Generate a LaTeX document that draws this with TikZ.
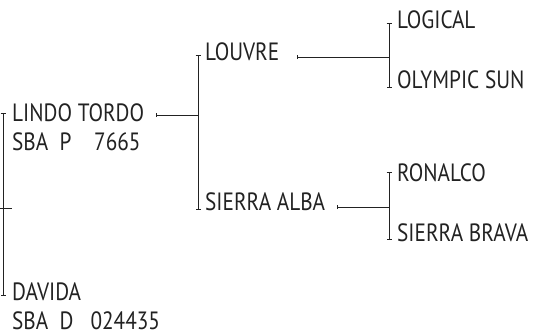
\documentclass[tikz,border=0pt]{standalone}
\usepackage{fontspec}
\setmainfont{PT Sans}[FakeStretch=0.85]
\usetikzlibrary{arrows.meta}
\definecolor{inkgray}{HTML}{222222}
\tikzset{
  horse/.style={anchor=base west, inner sep=0pt, text=inkgray, font=\fontsize{25}{29}\selectfont},
  bracket/.style={{Bar[width=5pt,line width=0.8pt]}-{Bar[width=5pt,line width=0.8pt]}, draw=inkgray, line width=0.8pt},
  link/.style={{Bar[width=4pt,line width=0.8pt]}-, draw=inkgray, line width=0.8pt}
}

\begin{document}
\begin{tikzpicture}[x=1pt, y=-1pt]
    \useasboundingbox (0,0) rectangle (542,335);
    % parents
    \node[horse] (lindo) at (12,121) {LINDO TORDO};
    \node[horse] (lindoreg) at (12,150) {SBA\ \ P\ \ \ \ 7665};
    \node[horse] (davida) at (12,300) {DAVIDA};
    \node[horse] (davidareg) at (12,329) {SBA\ \ D\ \ \ 024435};
    % grandparents
    \node[horse] (louvre) at (205,60) {LOUVRE};
    \node[horse] (sierraalba) at (205,210) {SIERRA ALBA};
    % great-grandparents
    \node[horse] (logical) at (397,28) {LOGICAL};
    \node[horse] (olympic) at (397,88) {OLYMPIC SUN};
    \node[horse] (ronalco) at (397,181) {RONALCO};
    \node[horse] (sierrabrava) at (397,241) {SIERRA BRAVA};
    % brackets
    \coordinate (root) at (0,208);
    \draw[bracket] ([shift={(-9,-8)}]lindo.base west) -- ([shift={(-9,-4)}]davida.base west);
    \draw[draw=inkgray, line width=0.8pt] (root) -- (root -| davida.west) ++(-9,0);
    \draw[bracket] ([shift={(-7,-5)}]louvre.base west) -- ([xshift=-7]sierraalba.base west);
    \draw[bracket] ([shift={(-8,-5)}]logical.base west) -- ([xshift=-8]olympic.base west);
    \draw[bracket] ([shift={(-8,-9)}]ronalco.base west) -- ([shift={(-8,-1)}]sierrabrava.base west);
    % links
    \draw[link] ([shift={(12,-6)}]lindo.base east) -- ([shift={(-7,-6)}]lindo.base east -| louvre.west);
    \draw[link] ([shift={(18,-3)}]louvre.base east) -- ([shift={(-8,-3)}]louvre.base east -| logical.west);
    \draw[link] ([shift={(12,-3)}]sierraalba.base east) -- ([shift={(-8,-3)}]sierraalba.base east -| ronalco.west);
  \end{tikzpicture}
\end{document}
